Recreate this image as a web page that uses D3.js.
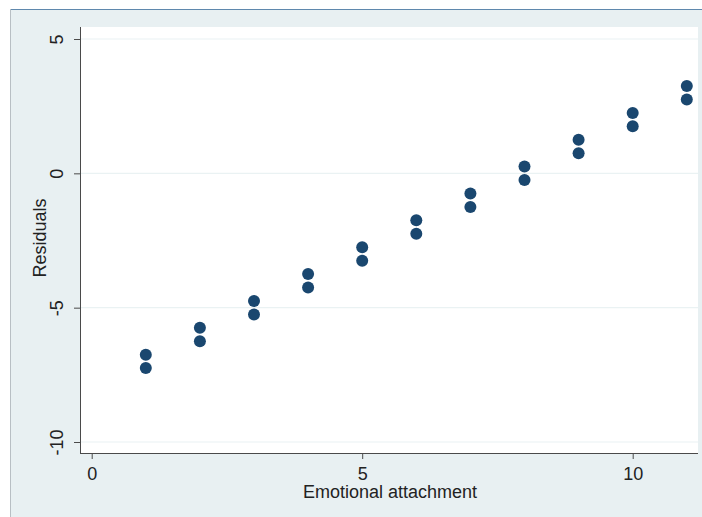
<!DOCTYPE html>
<html>
<head>
<meta charset="utf-8">
<script src="https://cdn.jsdelivr.net/npm/d3@7"></script>
<style>
  html, body { margin: 0; padding: 0; background: #ffffff; }
  svg { display: block; font-family: "Liberation Sans", Arial, sans-serif; }
</style>
</head>
<body>
<svg id="chart" width="702" height="517"></svg>
<script>
// Residuals against emotional attachment: two observations per level
const attachment = [1, 1, 2, 2, 3, 3, 4, 4, 5, 5, 6, 6, 7, 7, 8, 8, 9, 9, 10, 10, 11, 11];
const residuals  = [-6.75, -7.25, -5.75, -6.25, -4.75, -5.25, -3.75, -4.25, -2.75, -3.25,
                    -1.75, -2.25, -0.75, -1.25, 0.25, -0.25, 1.25, 0.75, 2.25, 1.75, 3.25, 2.75];
const xTicks = [0, 5, 10];
const yTicks = [5, 0, -5, -10];

const svg = d3.select("#chart");
const W = 702, H = 517;
const FONT = 18;

// Outer graph region
svg.append("rect").attr("x", 10).attr("y", 9).attr("width", W - 10).attr("height", H - 9)
  .attr("fill", "#e8f0f2");
svg.append("line").attr("x1", 10).attr("x2", W).attr("y1", 9.5).attr("y2", 9.5)
  .attr("stroke", "#5f88ad").attr("stroke-width", 1.2);
svg.append("line").attr("x1", 10.5).attr("x2", 10.5).attr("y1", 9).attr("y2", H)
  .attr("stroke", "#b8bfc4").attr("stroke-width", 1);

// Plot region
const plot = { left: 80, right: 698, top: 27, bottom: 453 };
svg.append("rect").attr("x", plot.left).attr("y", plot.top)
  .attr("width", plot.right - plot.left).attr("height", plot.bottom - plot.top)
  .attr("fill", "#ffffff");

const x = d3.scaleLinear().domain([0, 10]).range([91.7, 632.7]);
const y = d3.scaleLinear().domain([-10, 5]).range([442, 39]);

// Horizontal grid lines
svg.append("g").selectAll("line").data(yTicks).join("line")
  .attr("x1", plot.left).attr("x2", plot.right)
  .attr("y1", d => y(d)).attr("y2", d => y(d))
  .attr("stroke", "#eaf2f3").attr("stroke-width", 1.2);

// Axes
const plain = d => String(d);
const yAxis = svg.append("g").attr("transform", `translate(${plot.left},0)`)
  .call(d3.axisLeft(y).tickValues(yTicks).tickSize(6).tickPadding(8).tickFormat(plain));
yAxis.select(".domain").attr("d", `M0.5,${plot.top}V${plot.bottom}`).attr("stroke", "#4a4a4a");
yAxis.selectAll(".tick line").attr("stroke", "#4a4a4a");
yAxis.selectAll(".tick text")
  .attr("font-size", FONT).attr("fill", "#222")
  .attr("text-anchor", "middle")
  .attr("x", null).attr("y", null).attr("dy", "0")
  .attr("transform", "translate(-17,0) rotate(-90)");

const xAxis = svg.append("g").attr("transform", `translate(0,${plot.bottom})`)
  .call(d3.axisBottom(x).tickValues(xTicks).tickSize(6).tickPadding(8).tickFormat(plain));
xAxis.select(".domain").attr("d", `M${plot.left},0.5H${plot.right}`).attr("stroke", "#4a4a4a");
xAxis.selectAll(".tick line").attr("stroke", "#4a4a4a");
xAxis.selectAll(".tick text").attr("font-size", FONT).attr("fill", "#222").attr("dy", "0.71em");

// Axis titles
svg.append("text").attr("x", 390).attr("y", 498).attr("text-anchor", "middle")
  .attr("font-size", FONT).attr("fill", "#222").text("Emotional attachment");
svg.append("text").attr("transform", "translate(46,238) rotate(-90)").attr("text-anchor", "middle")
  .attr("font-size", FONT).attr("fill", "#222").text("Residuals");

// Points
svg.append("g").selectAll("circle").data(attachment).join("circle")
  .attr("cx", d => x(d)).attr("cy", (d, i) => y(residuals[i])).attr("r", 6)
  .attr("fill", "#1a476f");
</script>
</body>
</html>
